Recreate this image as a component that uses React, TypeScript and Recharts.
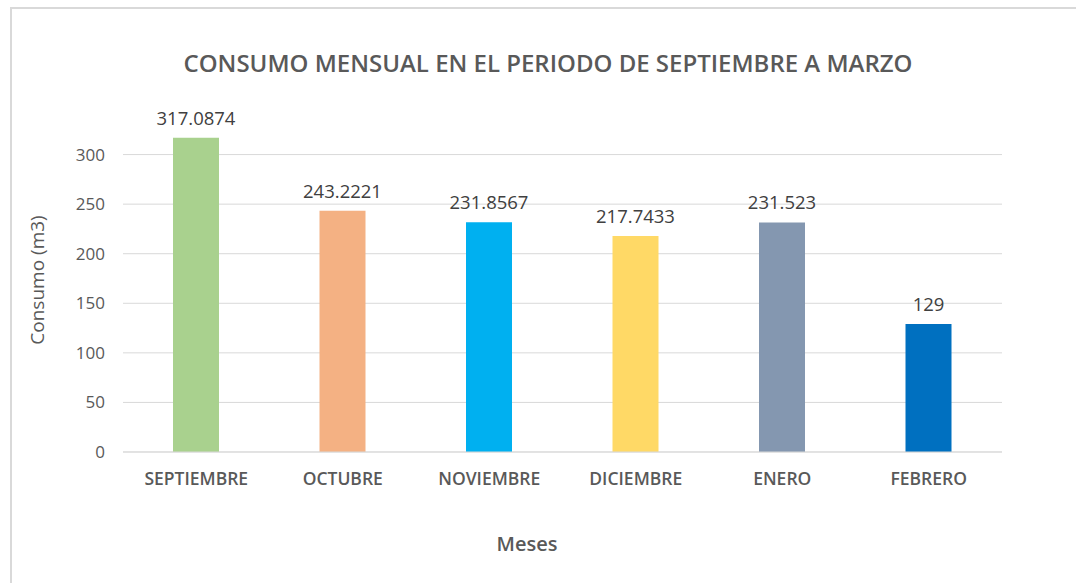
import { Bar, BarChart, CartesianGrid, Cell, LabelList, XAxis, YAxis } from "recharts"

const months = ["SEPTIEMBRE", "OCTUBRE", "NOVIEMBRE", "DICIEMBRE", "ENERO", "FEBRERO"]
const consumo = [317.0874, 243.2221, 231.8567, 217.7433, 231.523, 129]
const valueLabels = ["317.0874", "243.2221", "231.8567", "217.7433", "231.523", "129"]
const barColors = ["#A9D18E", "#F4B183", "#00B0F0", "#FFD966", "#8497B0", "#0070C0"]
const yTicks = [0, 50, 100, 150, 200, 250, 300]

const data = months.map((m, i) => ({ mes: m, consumo: consumo[i], label: valueLabels[i] }))

const FONT = "'Open Sans', 'Noto Sans', sans-serif"
const GRAY = "#595959"

export default function App() {
    return (
        <div style={{ position: "absolute", left: 0, top: 0, width: 1076, height: 583, background: "#fff", overflow: "hidden", fontFamily: FONT }}>
            {/* chart frame, cropped on the right and bottom */}
            <div style={{ position: "absolute", left: 10, top: 7, width: 1100, height: 600, borderTop: "2px solid #D9D9D9", borderLeft: "2px solid #D9D9D9" }} />
            <div style={{ position: "absolute", left: 0, top: 62, width: 1096, transform: "translateY(-50%)", textAlign: "center", fontSize: 24, fontWeight: 600, color: GRAY }}>
                CONSUMO MENSUAL EN EL PERIODO DE SEPTIEMBRE A MARZO
            </div>
            <div style={{ position: "absolute", left: 37, top: 280, transform: "translate(-50%, -50%) rotate(-90deg)", whiteSpace: "nowrap", fontSize: 19, color: GRAY }}>
                Consumo (m3)
            </div>
            <div style={{ position: "absolute", left: 527, top: 543, transform: "translate(-50%, -50%)", fontSize: 20, fontWeight: 600, color: GRAY }}>
                Meses
            </div>
            <div style={{ position: "absolute", left: 0, top: 0 }}>
                <BarChart width={1076} height={583} data={data} margin={{ top: 105, right: 74, left: 63, bottom: 71 }} barSize={46}>
                    <CartesianGrid vertical={false} stroke="#D9D9D9" horizontalValues={yTicks} />
                    <XAxis
                        dataKey="mes"
                        axisLine={{ stroke: "#D9D9D9" }}
                        tickLine={false}
                        tickSize={0}
                        tickMargin={21}
                        height={60}
                        tick={{ fontSize: 17.5, fontWeight: 600, fill: GRAY, fontFamily: FONT }}
                    />
                    <YAxis
                        domain={[0, 350]}
                        ticks={yTicks}
                        width={60}
                        axisLine={false}
                        tickLine={false}
                        tickSize={0}
                        tickMargin={18}
                        tick={{ fontSize: 17, fill: GRAY, fontFamily: FONT }}
                    />
                    <Bar dataKey="consumo" isAnimationActive={false}>
                        {data.map((d, i) => (
                            <Cell key={d.mes} fill={barColors[i]} />
                        ))}
                        <LabelList dataKey="label" position="top" offset={13} style={{ fontSize: 18.5, fill: "#404040", fontFamily: FONT }} />
                    </Bar>
                </BarChart>
            </div>
        </div>
    )
}
